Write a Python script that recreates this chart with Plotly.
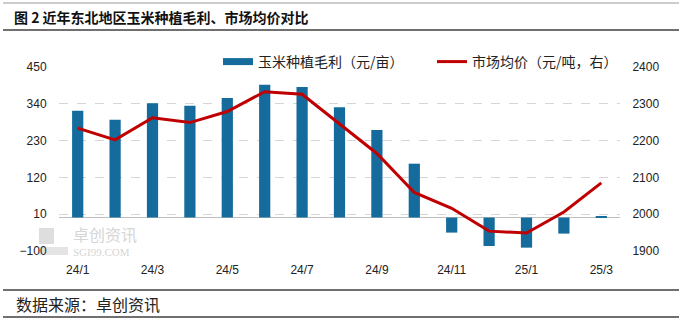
import plotly.graph_objects as go

months = ["24/1", "24/2", "24/3", "24/4", "24/5", "24/6", "24/7", "24/8",
          "24/9", "24/10", "24/11", "24/12", "25/1", "25/2", "25/3"]
profit = [319, 292, 342, 334, 357, 397, 390, 330, 262, 161, -45, -85, -90, -48, 3]
price = [2234, 2202, 2262, 2249, 2279, 2333, 2326, 2245, 2165, 2059, 2016, 1954, 1949, 2006, 2085]
left_ticks = [-100, 10, 120, 230, 340, 450]
right_ticks = [1900, 2000, 2100, 2200, 2300, 2400]
tick_months = months[::2]

W, H = 682, 325
L, R, T, B = 59, 62, 67, 74
PW, PH = W - L - R, H - T - B


def px_x(x):
    return (x - L) / PW


def px_y(y):
    return (H - B - y) / PH


BLUE = "#156C9C"
RED = "#C00000"
CJK = "Noto Sans CJK SC"
NUM = "Liberation Sans, Noto Sans CJK SC"

fig = go.Figure()
fig.add_bar(x=months, y=profit, marker=dict(color=BLUE, line=dict(width=0)),
            width=0.3, showlegend=False, yaxis="y")
fig.add_scatter(x=[None], y=[None], mode="lines", line=dict(color=BLUE, width=7),
                name="玉米种植毛利（元/亩）")
fig.add_scatter(x=months, y=price, mode="lines", line=dict(color=RED, width=3),
                name="市场均价（元/吨，右）", yaxis="y2")

shapes = []
for yy, col, w in [(3, "#9a9a9a", 1), (30, "#404040", 1.5), (290, "#404040", 1.5), (317, "#404040", 1.5)]:
    shapes.append(dict(type="line", xref="paper", yref="paper",
                       x0=px_x(3), x1=px_x(679), y0=px_y(yy), y1=px_y(yy),
                       line=dict(color=col, width=w)))
# watermark logo squares
shapes.append(dict(type="rect", xref="paper", yref="paper",
                   x0=px_x(39), x1=px_x(54), y0=px_y(244), y1=px_y(228),
                   fillcolor="#dedede", line=dict(width=0), layer="below"))
shapes.append(dict(type="rect", xref="paper", yref="paper",
                   x0=px_x(39), x1=px_x(68), y0=px_y(255), y1=px_y(247),
                   fillcolor="#e4e4e4", line=dict(width=0), layer="below"))

annotations = [
    dict(text="<b>图 2 近年东北地区玉米种植毛利、市场均价对比</b>", xref="paper", yref="paper",
         x=px_x(12), y=px_y(17), xanchor="left", yanchor="middle", showarrow=False,
         font=dict(family=CJK, size=14, color="#111111")),
    dict(text="数据来源：卓创资讯", xref="paper", yref="paper",
         x=px_x(14), y=px_y(304), xanchor="left", yanchor="middle", showarrow=False,
         font=dict(family=CJK, size=16, color="#222222")),
    dict(text="卓创资讯", xref="paper", yref="paper",
         x=px_x(71), y=px_y(234), xanchor="left", yanchor="middle", showarrow=False,
         font=dict(family=CJK, size=16, color="#d6d6d6")),
    dict(text="SGI99.COM", xref="paper", yref="paper",
         x=px_x(71), y=px_y(252), xanchor="left", yanchor="middle", showarrow=False,
         font=dict(family="Liberation Serif", size=11, color="#d6d6d6")),
]

fig.update_layout(
    width=W, height=H,
    margin=dict(l=L, r=R, t=T, b=B, pad=0),
    paper_bgcolor="white", plot_bgcolor="white",
    font=dict(family=NUM, size=12, color="#222222"),
    shapes=shapes, annotations=annotations,
    showlegend=True,
    legend=dict(orientation="h", x=px_x(218), xanchor="left", y=px_y(62), yanchor="middle",
                font=dict(family=CJK, size=14, color="#222222"), bgcolor="rgba(0,0,0,0)",
                itemwidth=30, traceorder="normal", entrywidth=169),
    xaxis=dict(type="category", categoryorder="array", categoryarray=months,
               tickvals=tick_months, ticktext=tick_months, range=[-0.5, len(months) - 0.5],
               showgrid=False, showline=False, zeroline=False,
               ticks="outside", ticklen=8, tickcolor="rgba(0,0,0,0)",
               tickfont=dict(family=NUM, size=12)),
    yaxis=dict(range=[-100, 450], tickvals=left_ticks, showgrid=True,
               gridcolor="#d6d6d6", griddash="dash", gridwidth=1,
               zeroline=True, zerolinecolor="#bfbfbf", zerolinewidth=1,
               showline=False, ticks="outside", ticklen=9, tickcolor="rgba(0,0,0,0)",
               tickfont=dict(family=NUM, size=12)),
    yaxis2=dict(range=[1900, 2400], tickvals=right_ticks, overlaying="y", side="right",
                showgrid=False, zeroline=False, showline=False,
                ticks="outside", ticklen=9, tickcolor="rgba(0,0,0,0)",
                tickfont=dict(family=NUM, size=12)),
    bargap=0.7,
)

fig.write_html("out.html")
